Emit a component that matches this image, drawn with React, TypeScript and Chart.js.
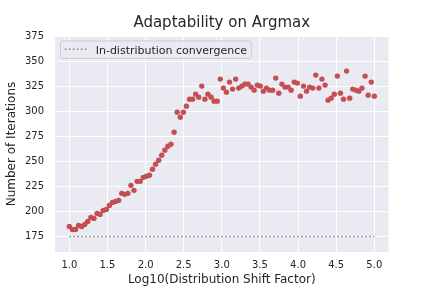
import React, { useEffect, useRef } from "react";
import { Chart, registerables } from "chart.js";

Chart.register(...registerables);

const chartTitle = "Adaptability on Argmax";
const xAxisLabel = "Log10(Distribution Shift Factor)";
const yAxisLabel = "Number of Iterations";
const baselineLabel = "In-distribution convergence";

const shiftFactorLog10 = [
  1.0, 1.04, 1.081, 1.121, 1.162, 1.202, 1.242, 1.283, 1.323, 1.364,
  1.404, 1.444, 1.485, 1.525, 1.566, 1.606, 1.646, 1.687, 1.727, 1.768,
  1.808, 1.848, 1.889, 1.929, 1.97, 2.01, 2.051, 2.091, 2.131, 2.172,
  2.212, 2.253, 2.293, 2.333, 2.374, 2.414, 2.455, 2.495, 2.535, 2.576,
  2.616, 2.657, 2.697, 2.737, 2.778, 2.818, 2.859, 2.899, 2.939, 2.98,
  3.02, 3.061, 3.101, 3.141, 3.182, 3.222, 3.263, 3.303, 3.343, 3.384,
  3.424, 3.465, 3.505, 3.545, 3.586, 3.626, 3.667, 3.707, 3.747, 3.788,
  3.828, 3.869, 3.909, 3.949, 3.99, 4.03, 4.071, 4.111, 4.152, 4.192,
  4.232, 4.273, 4.313, 4.354, 4.394, 4.434, 4.475, 4.515, 4.556, 4.596,
  4.636, 4.677, 4.717, 4.758, 4.798, 4.838, 4.879, 4.919, 4.96, 5.0,
];

const iterations = [
  185, 182, 182, 186, 185, 187, 190, 194, 193, 198,
  197, 201, 202, 206, 209, 210, 211, 218, 217, 218,
  226, 221, 230, 230, 234, 235, 236, 242, 247, 251,
  256, 261, 265, 267, 279, 299, 294, 299, 305, 312,
  312, 317, 314, 325, 312, 317, 314, 310, 310, 332,
  323, 319, 329, 322, 332, 323, 325, 327, 327, 324,
  321, 326, 325, 320, 323, 321, 321, 333, 318, 327,
  324, 324, 321, 329, 328, 315, 325, 320, 324, 323,
  336, 323, 332, 326, 311, 313, 317, 335, 318, 312,
  340, 313, 322, 321, 320, 323, 335, 316, 329, 315,
];

const baselineX = [1.0, 5.0];
const baselineY = [175, 175];

const xTickValues = [1.0, 1.5, 2.0, 2.5, 3.0, 3.5, 4.0, 4.5, 5.0];
const yTickValues = [175, 200, 225, 250, 275, 300, 325, 350, 375];

const FONT = "'DejaVu Sans', 'Liberation Sans', sans-serif";
const TEXT = "#262626";
const BG = "#EAEAF2";
const POINT = "#C44E52";
const BASE = "#808080";

const bgPlugin = {
  id: "axesBg",
  beforeDraw(chart: any) {
    const { ctx, chartArea } = chart;
    ctx.save();
    ctx.fillStyle = BG;
    ctx.fillRect(chartArea.left, chartArea.top, chartArea.right - chartArea.left, chartArea.bottom - chartArea.top);
    ctx.restore();
  },
};

const legendPlugin = {
  id: "boxLegend",
  afterDraw(chart: any) {
    const { ctx, chartArea } = chart;
    const x = chartArea.left + 5.5;
    const y = chartArea.top + 5;
    ctx.save();
    ctx.font = `11px ${FONT}`;
    const tw = ctx.measureText(baselineLabel).width;
    const pad = 4.4;
    const handle = 22;
    const gap = 8.8;
    const w = pad + handle + gap + tw + pad;
    const h = 17.5;
    ctx.beginPath();
    ctx.roundRect(x, y, w, h, 2.5);
    ctx.fillStyle = "rgba(234,234,242,0.8)";
    ctx.fill();
    ctx.lineWidth = 1;
    ctx.strokeStyle = "#cccccc";
    ctx.stroke();
    const my = y + 8.3;
    ctx.beginPath();
    ctx.setLineDash([1.5, 2.5]);
    ctx.strokeStyle = BASE;
    ctx.lineWidth = 1.5;
    ctx.moveTo(x + pad, my);
    ctx.lineTo(x + pad + handle, my);
    ctx.stroke();
    ctx.setLineDash([]);
    ctx.fillStyle = TEXT;
    ctx.textBaseline = "alphabetic";
    ctx.textAlign = "left";
    ctx.fillText(baselineLabel, x + pad + handle + gap, y + 12.6);
    ctx.restore();
  },
};

export default function App() {
  const ref = useRef<HTMLCanvasElement | null>(null);

  useEffect(() => {
    document.body.style.margin = "0";
    const canvas = ref.current;
    if (!canvas) return;
    const points = shiftFactorLog10.map((x, i) => ({ x, y: iterations[i] }));
    const baseline = baselineX.map((x, i) => ({ x, y: baselineY[i] }));

    const chart = new Chart(canvas, {
      type: "scatter",
      data: {
        datasets: [
          {
            type: "scatter",
            label: "Iterations",
            data: points,
            backgroundColor: POINT,
            borderColor: POINT,
            borderWidth: 0,
            pointRadius: 2.7,
            pointHoverRadius: 2.7,
          } as any,
          {
            type: "line",
            label: baselineLabel,
            data: baseline,
            borderColor: BASE,
            borderWidth: 1.5,
            borderDash: [1.5, 2.5],
            pointRadius: 0,
            fill: false,
          } as any,
        ],
      },
      options: {
        responsive: false,
        animation: false,
        events: [],
        layout: { padding: { left: 0, right: 43.5, top: 0, bottom: 0 } },
        plugins: {
          legend: { display: false },
          tooltip: { enabled: false },
          title: {
            display: true,
            text: chartTitle,
            fullSize: false,
            color: TEXT,
            font: { family: FONT, size: 15, weight: "normal" },
            padding: { top: 14.5, bottom: 3.5 },
          },
        },
        scales: {
          x: {
            type: "linear",
            min: 0.812,
            max: 5.186,
            afterBuildTicks: (scale: any) => {
              scale.ticks = xTickValues.map((v) => ({ value: v }));
            },
            afterFit: (scale: any) => {
              scale.height = 36;
            },
            grid: { color: "#ffffff", lineWidth: 1, drawTicks: false },
            border: { display: false },
            ticks: {
              padding: 7.5,
              color: TEXT,
              font: { family: FONT, size: 10 },
              maxRotation: 0,
              autoSkip: false,
              callback: (v: any) => Number(v).toFixed(1),
            },
            title: {
              display: true,
              text: xAxisLabel,
              color: TEXT,
              font: { family: FONT, size: 12 },
              padding: { top: 0, bottom: 1.4 },
            },
          },
          y: {
            type: "linear",
            min: 159.5,
            max: 375,
            afterBuildTicks: (scale: any) => {
              scale.ticks = yTickValues.map((v) => ({ value: v }));
            },
            afterFit: (scale: any) => {
              scale.width = 55;
            },
            grid: { color: "#ffffff", lineWidth: 1, drawTicks: false },
            border: { display: false },
            ticks: {
              padding: 11,
              color: TEXT,
              font: { family: FONT, size: 10 },
              autoSkip: false,
              callback: (v: any) => String(v),
            },
            title: {
              display: true,
              text: yAxisLabel,
              color: TEXT,
              font: { family: FONT, size: 12 },
              padding: { top: 5, bottom: 0 },
            },
          },
        },
      } as any,
      plugins: [bgPlugin, legendPlugin],
    });

    return () => chart.destroy();
  }, []);

  return (
    <canvas
      ref={ref}
      width={432}
      height={288}
      style={{ display: "block", width: 432, height: 288 }}
    />
  );
}
